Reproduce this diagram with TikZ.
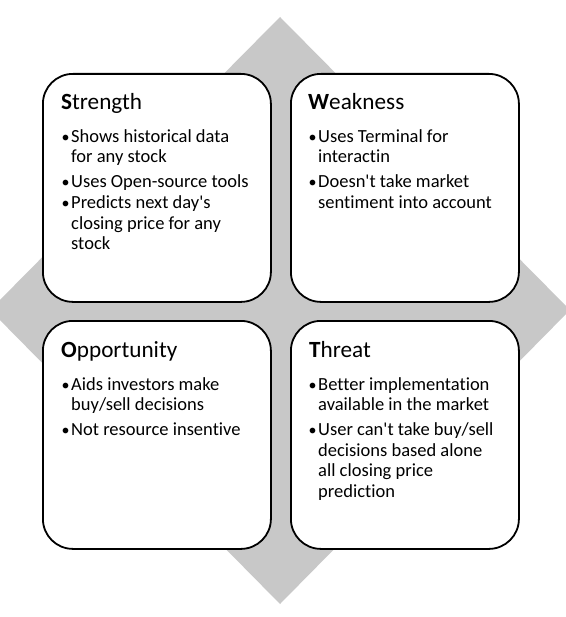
\documentclass[tikz,border=0pt]{standalone}
\usepackage{fontspec}
\newfontfamily\calibrifont{Carlito}[Ligatures=NoCommon]
\definecolor{diamondgray}{RGB}{200,200,200}
\begin{document}
\begin{tikzpicture}[x=1pt,y=-1pt,
  quad/.style={draw=black, line width=1.8pt, fill=white, rounded corners=30pt,
    minimum width=228pt, minimum height=228pt, anchor=north west, inner sep=0pt},
  ttl/.style={anchor=base west, inner sep=0pt, yshift=-1.5pt,
    font=\calibrifont\fontsize{23.2}{27}\selectfont},
  txt/.style={anchor=base west, inner sep=0pt, yshift=-1.5pt,
    font=\calibrifont\fontsize{18.5}{22}\selectfont},
  dot/.style={anchor=base west, inner sep=0pt, yshift=-1.5pt,
    font=\calibrifont\fontsize{16}{20}\selectfont},
]
\useasboundingbox (0,0) rectangle (565,617);
% background diamond
\fill[diamondgray] (280,17) -- (570,310) -- (280,604) -- (-10,310) -- cycle;

% the four quadrants
\node[quad] (sbox) at (42,73) {};
\node[quad] (wbox) at (290,73) {};
\node[quad] (obox) at (42,320) {};
\node[quad] (tbox) at (290,320) {};

% Strength
\node[ttl] (st) at (61,108) {\textbf{S}trength};
\node[dot] (s1b) at (61.5,141) {•};
\node[txt] (s1a) at (71,141) {Shows historical data};
\node[txt] (s1c) at (71,161.5) {for any stock};
\node[dot] (s2b) at (61.5,186.5) {•};
\node[txt] (s2a) at (71,186.5) {Uses Open-source tools};
\node[dot] (s3b) at (61.5,207.5) {•};
\node[txt] (s3a) at (71,207.5) {Predicts next day's};
\node[txt] (s3c) at (71,228) {closing price for any};
\node[txt] (s3d) at (71,248.5) {stock};

% Weakness
\node[ttl] (wt) at (308,108) {\textbf{W}eakness};
\node[dot] (w1b) at (308.5,141) {•};
\node[txt] (w1a) at (318,141) {Uses Terminal for};
\node[txt] (w1c) at (318,161.5) {interactin};
\node[dot] (w2b) at (308.5,186.5) {•};
\node[txt] (w2a) at (318,186.5) {Doesn't take market};
\node[txt] (w2c) at (318,207.5) {sentiment into account};

% Opportunity
\node[ttl] (ot) at (61,356) {\textbf{O}pportunity};
\node[dot] (o1b) at (61.5,388.5) {•};
\node[txt] (o1a) at (71,388.5) {Aids investors make};
\node[txt] (o1c) at (71,409) {buy/sell decisions};
\node[dot] (o2b) at (61.5,434) {•};
\node[txt] (o2a) at (71,434) {Not resource insentive};

% Threat
\node[ttl] (tt) at (309,356) {\textbf{T}hreat};
\node[dot] (t1b) at (308.5,388.5) {•};
\node[txt] (t1a) at (318,388.5) {Better implementation};
\node[txt] (t1c) at (318,409) {available in the market};
\node[dot] (t2b) at (308.5,434) {•};
\node[txt] (t2a) at (318,434) {User can't take buy/sell};
\node[txt] (t2c) at (318,454.5) {decisions based alone};
\node[txt] (t2d) at (318,475) {all closing price};
\node[txt] (t2e) at (318,495.5) {prediction};
\end{tikzpicture}
\end{document}
